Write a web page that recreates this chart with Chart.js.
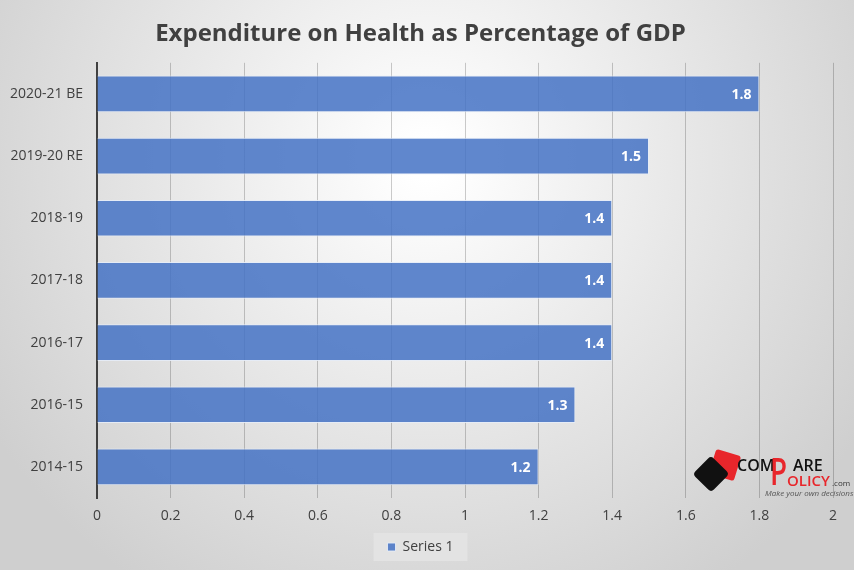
<!DOCTYPE html>
<html>
<head>
<meta charset="utf-8">
<script src="https://cdn.jsdelivr.net/npm/chart.js@4.4.0/dist/chart.umd.min.js"></script>
<style>
  html, body { margin: 0; padding: 0; background: #fff; }
  #wrap { width: 854px; height: 570px; }
</style>
</head>
<body>
<div id="wrap"><canvas id="healthChart" width="854" height="570"></canvas></div>
<script>
const years = ['2020-21 BE', '2019-20 RE', '2018-19', '2017-18', '2016-17', '2016-15', '2014-15'];
const healthGdp = [1.8, 1.5, 1.4, 1.4, 1.4, 1.3, 1.2];
const xTicks = [0, 0.2, 0.4, 0.6, 0.8, 1, 1.2, 1.4, 1.6, 1.8, 2];

const textColor = '#404040';
const fontFamily = '"Open Sans", "Noto Sans", sans-serif';

// grey radial background like the excel export, plus the legend box
const backgroundPlugin = {
    id: 'bg',
    beforeDraw(chart) {
        const ctx = chart.ctx;
        const w = chart.width, h = chart.height;
        ctx.save();
        const g = ctx.createRadialGradient(w * 0.5, h * 0.28, 20, w * 0.5, h * 0.28, w * 0.6);
        g.addColorStop(0, '#ffffff');
        g.addColorStop(0.45, '#e9e9e9');
        g.addColorStop(1, '#cfcfcf');
        ctx.fillStyle = g;
        ctx.fillRect(0, 0, w, h);

        const boxes = chart.legend && chart.legend.legendHitBoxes;
        if (boxes && boxes.length) {
            const b = boxes[0];
            ctx.fillStyle = '#e3e3e3';
            ctx.fillRect(b.left - 14, b.top - 7, b.width + 28, b.height + 14);
        }
        ctx.restore();
    }
};

// white value labels at the end of each bar
const valueLabels = {
    id: 'valueLabels',
    afterDatasetsDraw(chart) {
        const ctx = chart.ctx;
        const meta = chart.getDatasetMeta(0);
        ctx.save();
        ctx.fillStyle = '#ffffff';
        ctx.font = 'bold 14px ' + fontFamily;
        ctx.textAlign = 'right';
        ctx.textBaseline = 'middle';
        meta.data.forEach(function (bar, i) {
            ctx.fillText(healthGdp[i].toFixed(1), bar.x - 8, bar.y + 1);
        });
        ctx.restore();
    }
};

// compare policy logo, bottom right
const logoPlugin = {
    id: 'logo',
    afterDraw(chart) {
        const ctx = chart.ctx;
        ctx.save();
        // red card
        ctx.translate(725, 465);
        ctx.rotate(0.3);
        ctx.fillStyle = '#e8262b';
        ctx.beginPath();
        ctx.roundRect(-13, -13, 26, 26, 3);
        ctx.fill();
        ctx.restore();
        ctx.save();
        // black card
        ctx.translate(711, 474);
        ctx.rotate(0.78);
        ctx.fillStyle = '#111111';
        ctx.beginPath();
        ctx.roundRect(-13, -13, 26, 26, 4);
        ctx.fill();
        ctx.restore();

        ctx.save();
        ctx.textBaseline = 'alphabetic';
        ctx.font = '600 16px ' + fontFamily;
        ctx.fillStyle = '#111111';
        ctx.fillText('COM', 737, 471);
        ctx.fillText('ARE', 793, 471);
        ctx.fillStyle = '#e8262b';
        ctx.font = '600 15px ' + fontFamily;
        ctx.fillText('OLICY', 787, 486);
        ctx.font = '8px ' + fontFamily;
        ctx.fillStyle = '#333333';
        ctx.fillText('.com', 832, 486);
        ctx.font = 'italic 8px ' + fontFamily;
        ctx.fillStyle = '#555555';
        ctx.fillText('Make your own decisions', 765, 496);
        // tall red P shared by both words
        ctx.translate(770, 485);
        ctx.scale(0.75, 1);
        ctx.fillStyle = '#e8262b';
        ctx.font = '600 37px ' + fontFamily;
        ctx.fillText('P', 0, 0);
        ctx.restore();
    }
};

const config = {
    type: 'bar',
    data: {
        labels: years,
        datasets: [{
            label: 'Series 1',
            data: healthGdp,
            backgroundColor: 'rgba(68, 114, 196, 0.85)',
            borderColor: 'rgba(230, 236, 247, 0.9)',
            borderWidth: 1,
            borderSkipped: 'start',
            categoryPercentage: 0.59,
            barPercentage: 1
        }]
    },
    options: {
        indexAxis: 'y',
        responsive: false,
        animation: false,
        devicePixelRatio: 1,
        layout: {
            padding: { left: 8, right: 21, top: 6, bottom: 6 }
        },
        scales: {
            x: {
                min: 0,
                max: 2,
                afterBuildTicks(axis) {
                    axis.ticks = xTicks.map(v => ({ value: v }));
                },
                ticks: {
                    color: textColor,
                    font: { family: fontFamily, size: 14 },
                    padding: 10,
                    callback: v => String(v)
                },
                grid: {
                    color: 'rgba(0, 0, 0, 0.2)',
                    lineWidth: 1,
                    drawTicks: false
                },
                border: { display: false },
                afterFit(axis) { axis.height = 33; }
            },
            y: {
                ticks: {
                    color: textColor,
                    font: { family: fontFamily, size: 14 },
                    padding: 14
                },
                grid: { display: false, drawTicks: false },
                border: { display: true, color: '#404040', width: 2 },
                afterFit(axis) { axis.width = 89; }
            }
        },
        plugins: {
            title: {
                display: true,
                text: 'Expenditure on Health as Percentage of GDP',
                color: textColor,
                font: { family: fontFamily, size: 24, weight: 'bold' },
                padding: { top: 14, bottom: 14 }
            },
            legend: {
                position: 'bottom',
                labels: {
                    color: textColor,
                    font: { family: fontFamily, size: 14 },
                    boxWidth: 8,
                    boxHeight: 8,
                    padding: 9
                }
            },
            tooltip: { enabled: false }
        }
    },
    plugins: [backgroundPlugin, valueLabels, logoPlugin]
};

window.onload = function () {
    const ctx = document.getElementById('healthChart').getContext('2d');
    window.healthChart = new Chart(ctx, config);
};
</script>
</body>
</html>
